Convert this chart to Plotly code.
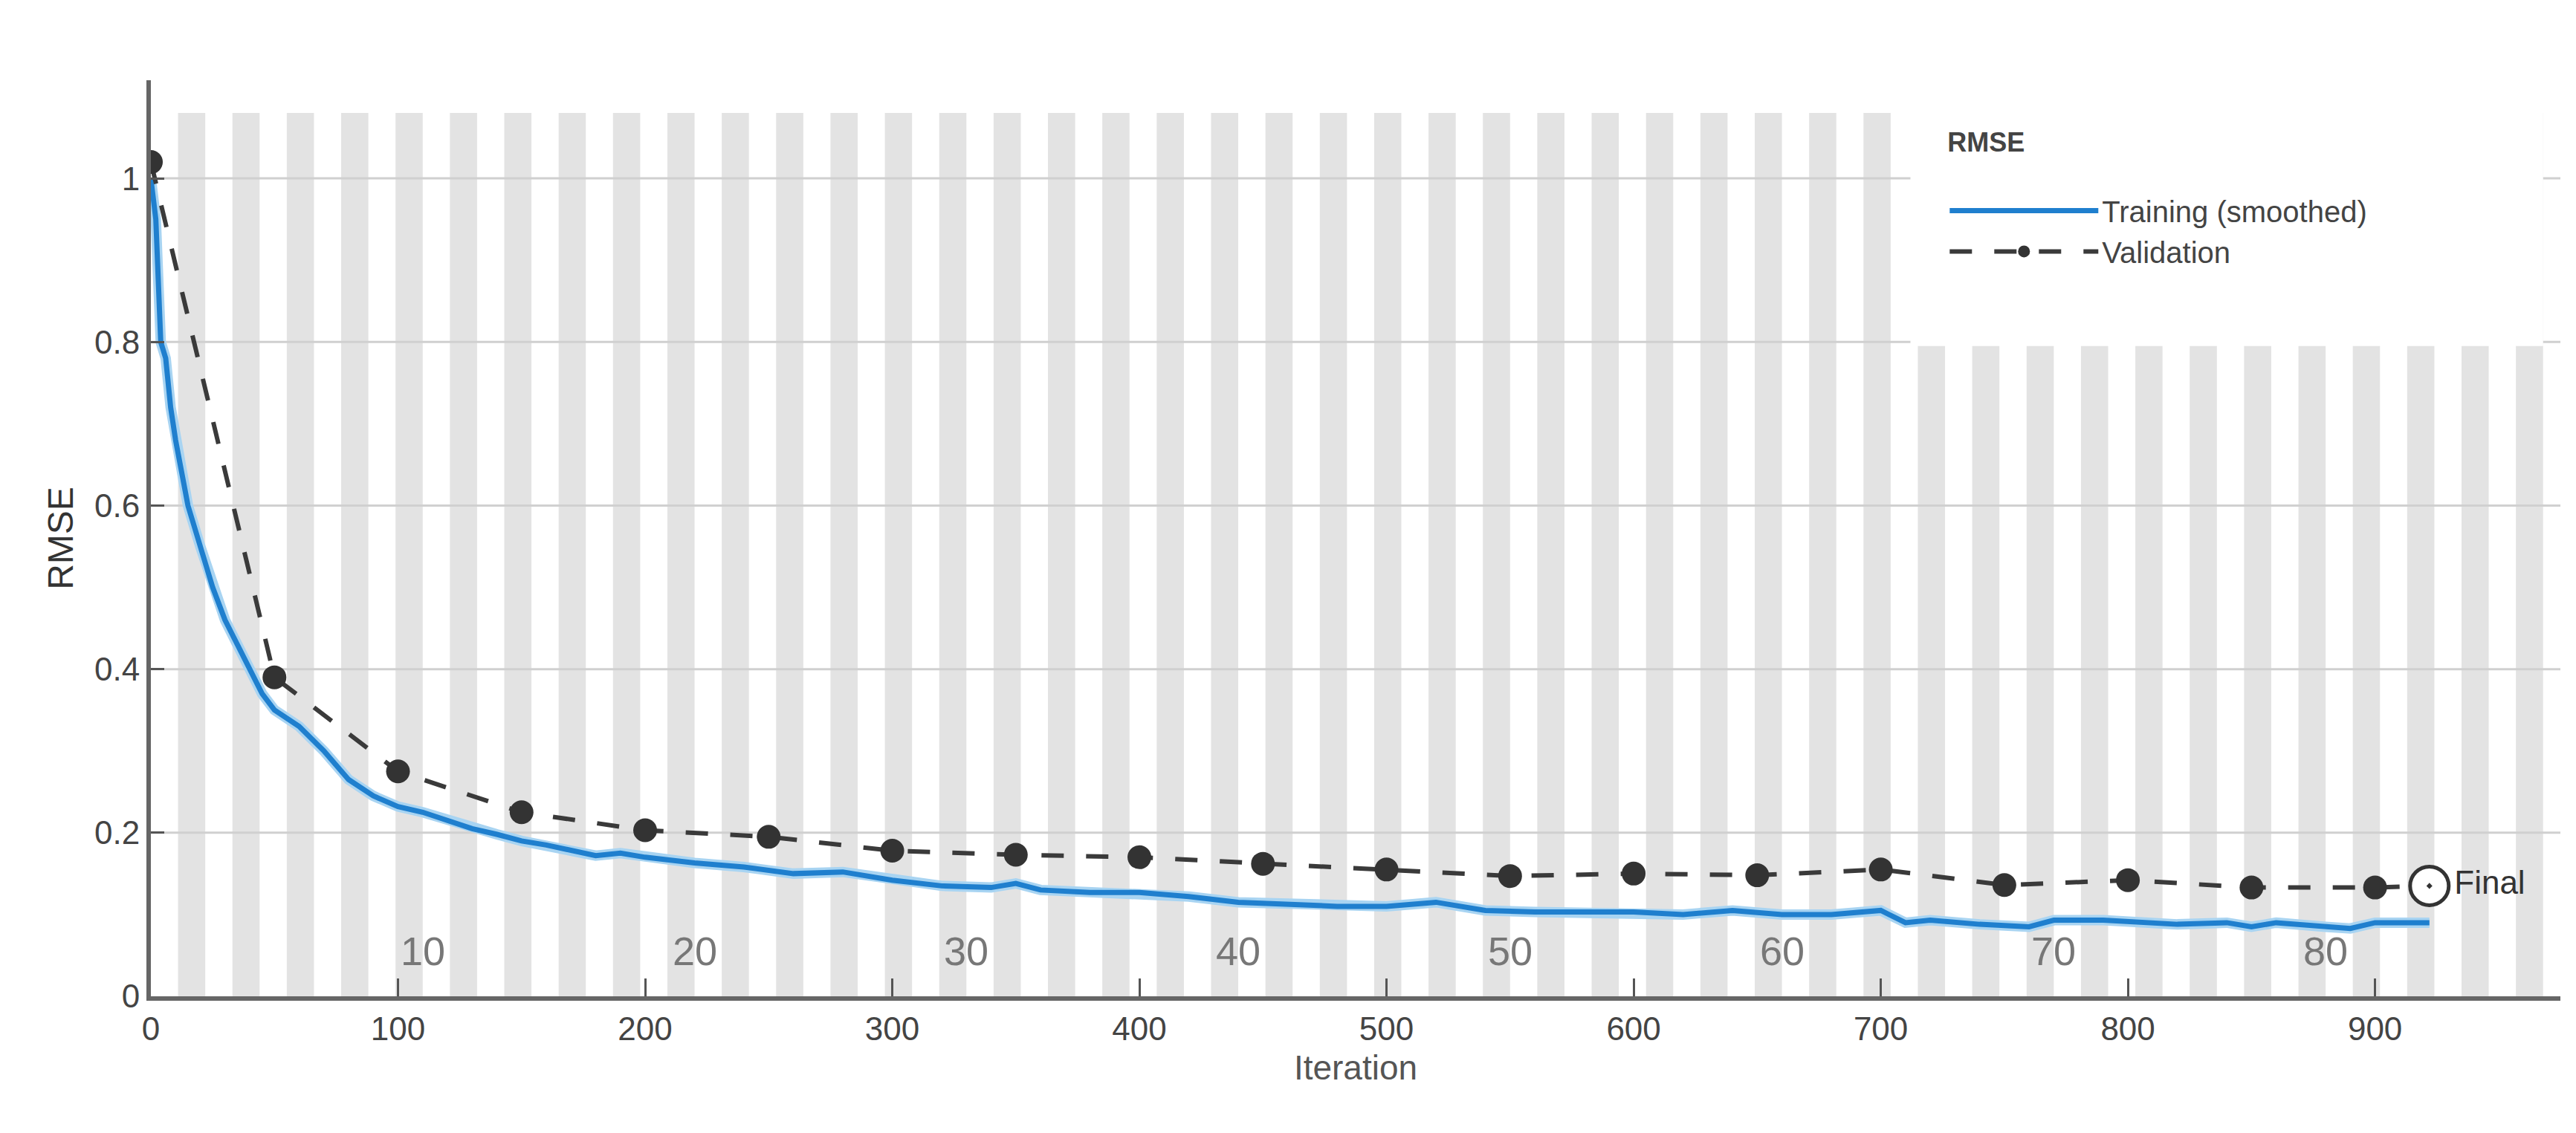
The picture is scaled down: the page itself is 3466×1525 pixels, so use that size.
import plotly.graph_objects as go

train_iter = [0,2,4,6,8,10,15,20,25,30,35,40,45,50,60,70,80,90,100,110,120,130,140,150,160,170,180,190,200,220,240,260,280,300,320,340,350,360,380,400,420,440,460,480,500,520,540,560,580,600,620,640,660,680,700,710,720,740,760,770,790,820,840,850,860,880,890,900,922]
train_rmse = [1.0,0.95,0.8,0.78,0.72,0.68,0.6,0.55,0.5,0.46,0.43,0.4,0.37,0.35,0.33,0.3,0.265,0.245,0.232,0.225,0.215,0.205,0.198,0.19,0.185,0.178,0.172,0.175,0.17,0.163,0.158,0.15,0.152,0.142,0.135,0.133,0.138,0.13,0.127,0.127,0.122,0.115,0.113,0.11,0.11,0.115,0.105,0.103,0.103,0.103,0.1,0.105,0.1,0.1,0.105,0.09,0.093,0.088,0.085,0.093,0.093,0.088,0.09,0.085,0.09,0.085,0.083,0.09,0.09]
val_iter = [0,50,100,150,200,250,300,350,400,450,500,550,600,650,700,750,800,850,900]
val_rmse = [1.02,0.39,0.275,0.225,0.203,0.195,0.178,0.173,0.17,0.162,0.155,0.147,0.15,0.148,0.155,0.136,0.142,0.133,0.133]
final_iter = [922]
final_rmse = [0.135]
epoch_labels = [10,20,30,40,50,60,70,80]
iters_per_epoch = 11
n_stripe_epochs = 88

FONT = "Liberation Sans, Arial, sans-serif"
fig = go.Figure()

shapes = []
for k in range(1, n_stripe_epochs, 2):
    shapes.append(dict(type="rect", xref="x", yref="y", x0=k*iters_per_epoch, x1=(k+1)*iters_per_epoch,
                       y0=0, y1=1.08, fillcolor="#e3e3e3", line_width=0, layer="below"))
for yv in [0.2, 0.4, 0.6, 0.8, 1.0]:
    shapes.append(dict(type="line", xref="x", yref="y", x0=0, x1=975, y0=yv, y1=yv,
                       line=dict(color="#d0d0d0", width=3), layer="below"))
shapes.append(dict(type="rect", xref="x", yref="y", x0=712, x1=968, y0=0.795, y1=1.085,
                   fillcolor="white", line_width=0, layer="below"))

fig.add_trace(go.Scatter(x=train_iter, y=train_rmse, mode="lines", line=dict(color="#a8d4f2", width=14),
                         showlegend=False, hoverinfo="skip"))
fig.add_trace(go.Scatter(x=train_iter, y=train_rmse, mode="lines", line=dict(color="#1f7fce", width=7),
                         name="Training (smoothed)"))
fig.add_trace(go.Scatter(x=val_iter + final_iter, y=val_rmse + final_rmse, mode="lines+markers",
                         line=dict(color="#3a3a3a", width=6, dash="longdash"),
                         marker=dict(size=32, color="#333333"), name="Validation"))
fig.add_trace(go.Scatter(x=final_iter, y=final_rmse, mode="markers+text", text=["Final"],
                         textposition="middle right", textfont=dict(size=44, color="#333", family=FONT),
                         marker=dict(size=52, color="white", symbol="circle-dot",
                                     line=dict(color="#333333", width=5)),
                         showlegend=False))
for e in epoch_labels:
    fig.add_annotation(x=e*iters_per_epoch, y=0.055, text=str(e), showarrow=False,
                       font=dict(size=54, color="#777777", family=FONT))

fig.update_layout(
    width=3466, height=1525, paper_bgcolor="white", plot_bgcolor="white",
    margin=dict(l=195, r=29, t=100, b=192),
    shapes=shapes, font=dict(family=FONT, size=44, color="#333"),
    legend=dict(x=0.745, y=0.96, xanchor="left", yanchor="top", bgcolor="rgba(0,0,0,0)",
                title=dict(text="<b>RMSE</b><br> ", font=dict(size=36)), font=dict(size=40, color="#444"),
                itemwidth=200, tracegroupgap=40),
    xaxis=dict(range=[0, 975], tickvals=list(range(0, 1000, 100)), ticks="inside", ticklen=24,
               tickwidth=3, tickcolor="#555", showline=True, linecolor="#666", linewidth=6,
               showgrid=False, zeroline=False, title=dict(text="Iteration", font=dict(size=46, color="#555")),
               tickfont=dict(size=44, color="#444")),
    yaxis=dict(range=[0, 1.12], tickvals=[0, 0.2, 0.4, 0.6, 0.8, 1], ticktext=["0","0.2","0.4","0.6","0.8","1"],
               ticks="inside", ticklen=18, tickwidth=3, tickcolor="#555", showline=True, linecolor="#666",
               linewidth=6, showgrid=False, zeroline=False,
               title=dict(text="RMSE", font=dict(size=48, color="#333")), tickfont=dict(size=44, color="#444")),
)
fig.write_html("out.html")
